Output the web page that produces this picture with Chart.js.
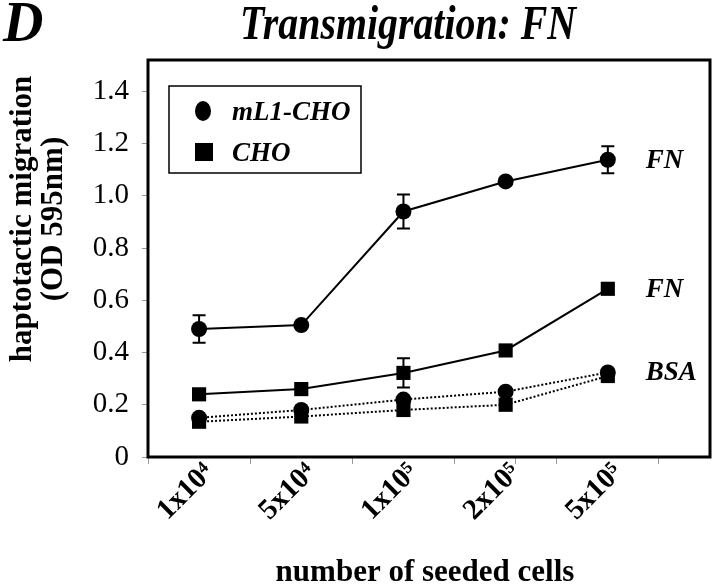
<!DOCTYPE html>
<html>
<head>
<meta charset="utf-8">
<script src="https://cdn.jsdelivr.net/npm/chart.js@4.4.0/dist/chart.umd.min.js"></script>
<style>
  html, body { margin: 0; padding: 0; background: #fff; }
</style>
</head>
<body>
<canvas id="migChart" width="720" height="585"></canvas>
<script>
// seeded cell numbers (x categories) and their slot on the x scale
const cellCounts = ["1x10⁴", "5x10⁴", "1x10⁵", "2x10⁵", "5x10⁵"];
const cellPos = [1, 2, 3, 4, 5];

// OD 595nm readings
const mL1FN = [0.49, 0.505, 0.94, 1.055, 1.138];
const mL1FNErr = [0.053, 0, 0.065, 0, 0.052];
const choFN = [0.24, 0.26, 0.322, 0.408, 0.644];
const choFNErr = [0, 0, 0.056, 0, 0];
const mL1BSA = [0.15, 0.18, 0.22, 0.25, 0.324];
const choBSA = [0.135, 0.155, 0.18, 0.2, 0.31];

const yTicks = [0, 0.2, 0.4, 0.6, 0.8, 1.0, 1.2, 1.4];

const SERIF = '"Liberation Serif", "Times New Roman", serif';
const LABEL_SHIFT = 0.1; // rotated tick labels sit a little right of the point

function pts(values) {
  return cellPos.map((x, i) => ({ x: x, y: values[i] }));
}

function series(label, values, errs, tag, style, dashed) {
  return {
    label: label,
    data: pts(values),
    errs: errs,
    tag: tag,
    borderColor: "#000",
    backgroundColor: "#000",
    borderWidth: 2,
    borderDash: dashed ? [2, 2] : [],
    pointStyle: style,
    pointRadius: style === "rect" ? 10 : 8,
    pointBorderWidth: 0,
    pointBackgroundColor: "#000",
    tension: 0,
  };
}

const decor = {
  id: "decor",
  beforeDatasetsDraw(chart) {
    const ctx = chart.ctx;
    const y = chart.scales.y;
    ctx.save();
    ctx.strokeStyle = "#000";
    ctx.lineWidth = 2;
    chart.data.datasets.forEach((ds, i) => {
      if (!ds.errs) return;
      const meta = chart.getDatasetMeta(i);
      ds.errs.forEach((e, j) => {
        if (!e) return;
        const v = ds.data[j].y;
        const px = meta.data[j].x;
        const top = y.getPixelForValue(v + e);
        const bot = y.getPixelForValue(v - e);
        ctx.beginPath();
        ctx.moveTo(px, top); ctx.lineTo(px, bot);
        ctx.moveTo(px - 6.5, top); ctx.lineTo(px + 6.5, top);
        ctx.moveTo(px - 6.5, bot); ctx.lineTo(px + 6.5, bot);
        ctx.stroke();
      });
    });
    ctx.restore();
  },
  afterDraw(chart) {
    const ctx = chart.ctx;
    const a = chart.chartArea;
    ctx.save();

    // plot frame
    ctx.strokeStyle = "#000";
    ctx.lineWidth = 3;
    ctx.strokeRect(a.left, a.top, a.right - a.left, a.bottom - a.top);

    // series tags at the right end of each line
    ctx.fillStyle = "#000";
    ctx.font = "italic bold 27px " + SERIF;
    ctx.textAlign = "left";
    ctx.textBaseline = "middle";
    chart.data.datasets.forEach((ds, i) => {
      if (!ds.tag) return;
      const meta = chart.getDatasetMeta(i);
      const last = meta.data[meta.data.length - 1];
      ctx.fillText(ds.tag, last.x + 38, last.y + 1);
    });

    // legend box
    const lx = a.left + 21, ly = a.top + 26;
    ctx.lineWidth = 1.5;
    ctx.strokeRect(lx, ly, 192, 87);
    ctx.beginPath();
    ctx.ellipse(lx + 34, ly + 25, 8, 10, 0, 0, Math.PI * 2);
    ctx.fill();
    ctx.fillRect(lx + 26, ly + 57, 18, 18);
    ctx.font = "italic bold 27px " + SERIF;
    ctx.textBaseline = "alphabetic";
    ctx.fillText(chart.data.datasets[0].label, lx + 63, ly + 34);
    ctx.fillText(chart.data.datasets[1].label, lx + 63, ly + 75);

    // panel letter and title
    ctx.font = "italic bold 56px " + SERIF;
    ctx.fillText("D", 3, 41);
    ctx.save();
    ctx.translate(240, 39);
    ctx.scale(0.83, 1);
    ctx.font = "italic bold 48px " + SERIF;
    ctx.fillText("Transmigration: FN", 0, 0);
    ctx.restore();

    // axis titles
    ctx.font = "bold 31px " + SERIF;
    ctx.textAlign = "center";
    ctx.fillText("number of seeded cells", 425, 581);
    ctx.save();
    ctx.translate(31, 219);
    ctx.rotate(-Math.PI / 2);
    ctx.fillText("haptotactic migration", 0, 0);
    ctx.restore();
    ctx.save();
    ctx.translate(62, 219);
    ctx.rotate(-Math.PI / 2);
    ctx.fillText("(OD 595nm)", 0, 0);
    ctx.restore();

    ctx.restore();
  },
};

new Chart(document.getElementById("migChart"), {
  type: "line",
  data: {
    datasets: [
      series("mL1-CHO", mL1FN, mL1FNErr, "FN", "circle", false),
      series("CHO", choFN, choFNErr, "FN", "rect", false),
      series("mL1-CHO BSA", mL1BSA, null, "BSA", "circle", true),
      series("CHO BSA", choBSA, null, "", "rect", true),
    ],
  },
  options: {
    responsive: false,
    animation: false,
    devicePixelRatio: 1,
    layout: { padding: { top: 60, right: 3, left: 0, bottom: 0 } },
    plugins: {
      legend: { display: false },
      tooltip: { enabled: false },
    },
    scales: {
      x: {
        type: "linear",
        min: 0.5,
        max: 6,
        afterFit: (s) => { s.height = 128; },
        afterBuildTicks: (s) => {
          const vals = [];
          cellPos.forEach((p) => { vals.push(p - 0.5, p + LABEL_SHIFT); });
          vals.push(cellPos[cellPos.length - 1] + 0.5);
          s.ticks = vals.map((v) => ({ value: v }));
        },
        border: { display: false },
        grid: {
          drawOnChartArea: false,
          tickLength: 7,
          tickColor: (c) => (c.tick && cellPos.includes(c.tick.value - LABEL_SHIFT) ? "rgba(0,0,0,0)" : "#999"),
        },
        ticks: {
          autoSkip: false,
          minRotation: 45,
          maxRotation: 45,
          padding: -8,
          color: "#000",
          font: { family: SERIF, size: 29, weight: "bold" },
          callback: (v) => {
            const i = cellPos.indexOf(Math.round((v - LABEL_SHIFT) * 100) / 100);
            return i >= 0 ? cellCounts[i] : "";
          },
        },
      },
      y: {
        min: 0,
        max: 1.52,
        afterFit: (s) => { s.width = 148; },
        afterBuildTicks: (s) => {
          s.ticks = yTicks.map((v) => ({ value: v }));
        },
        border: { display: false },
        grid: {
          drawOnChartArea: false,
          tickLength: 6,
          tickColor: "#999",
        },
        ticks: {
          padding: 13,
          color: "#000",
          font: { family: SERIF, size: 29 },
          callback: (v) => (v === 0 ? "0" : v.toFixed(1)),
        },
      },
    },
  },
  plugins: [decor],
});
</script>
</body>
</html>
